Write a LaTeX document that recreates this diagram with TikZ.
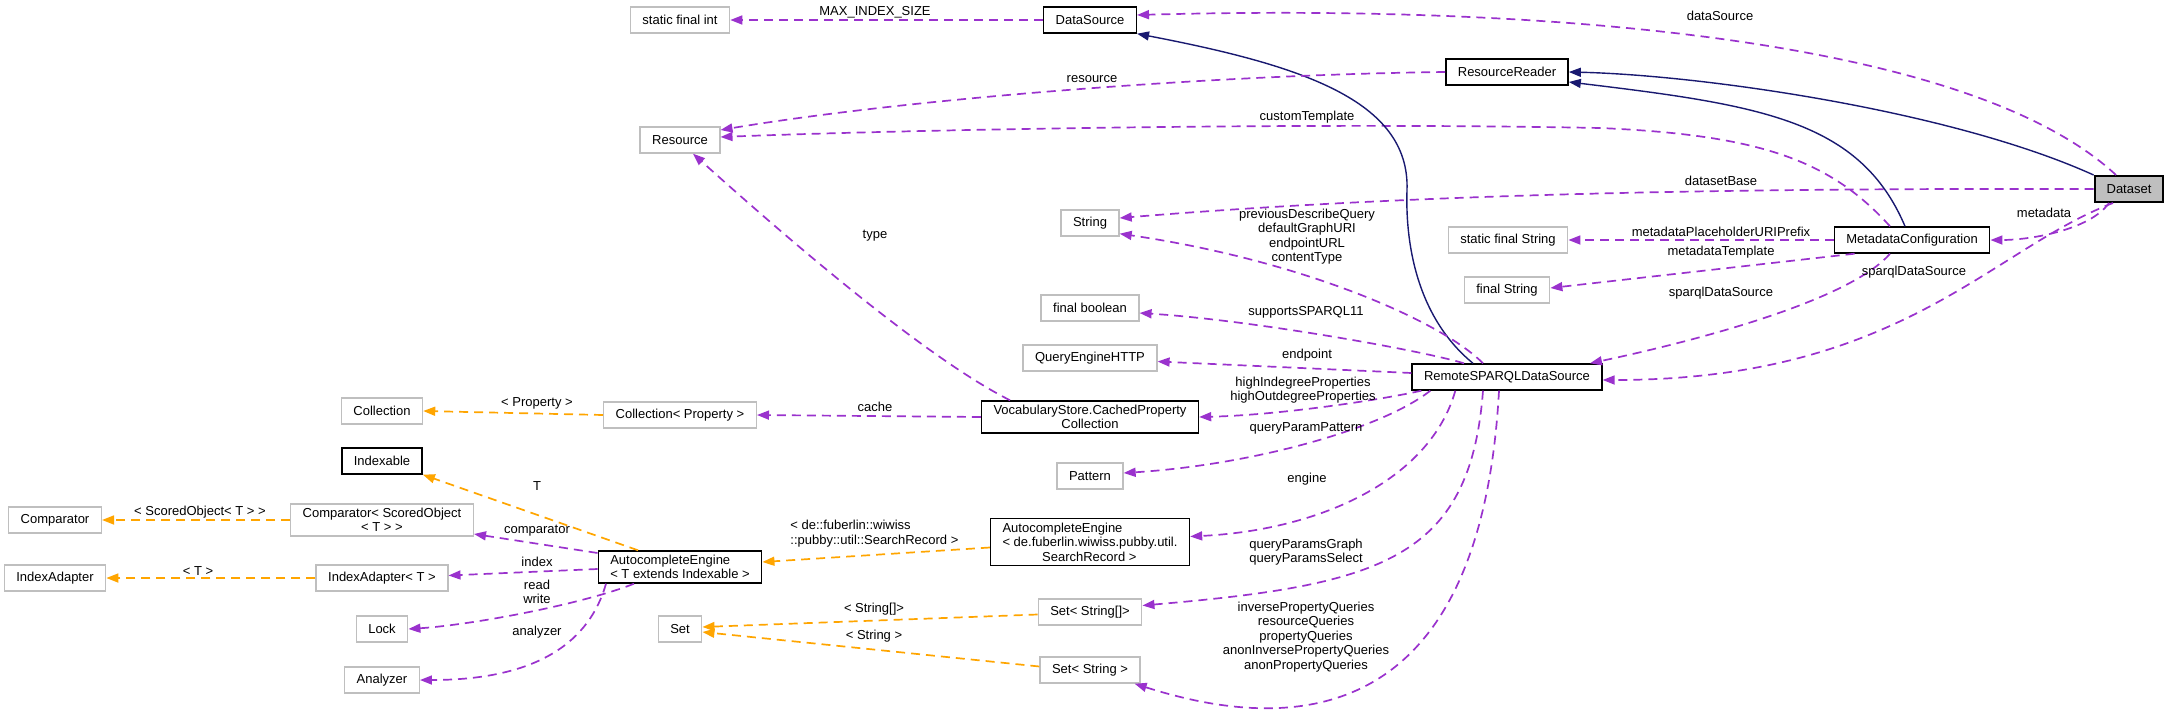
\documentclass[tikz,border=0pt]{standalone}
\usepackage{fontspec}
\setmainfont{Liberation Sans}
\usepackage{tikz}
\usetikzlibrary{arrows.meta}
\definecolor{memc}{HTML}{9A32CD}
\definecolor{tplc}{HTML}{FFA500}
\definecolor{inhc}{HTML}{191970}
\definecolor{grayb}{HTML}{BFBFBF}

\begin{document}
\begin{tikzpicture}[x=0.5pt, y=-0.5pt,
  font=\fontsize{6.5pt}{7.25pt}\selectfont,
  cls/.style={draw=black, line width=0.7pt, inner xsep=6pt, inner ysep=2pt, minimum height=13pt},
  ext/.style={cls, draw=grayb},
  mem/.style={draw=memc, line width=0.85pt, dash pattern=on 4.5pt off 3pt,
    -{Triangle[length=6pt,width=4.5pt]}},
  tpl/.style={mem, draw=tplc},
  inh/.style={draw=inhc, line width=0.7pt, -{Triangle[length=6pt,width=4.5pt]}},
  lbl/.style={inner sep=0pt, align=center}]
  \useasboundingbox (0,0) rectangle (2169,712);
  % classes
  \node[ext] (sfi) at (680,20) {static final int};
  \node[cls] (ds) at (1090,20) {DataSource};
  \node[cls] (rr) at (1507,72) {ResourceReader};
  \node[cls, fill=grayb, line width=1pt] (dset) at (2129,189) {Dataset};
  \node[ext] (res) at (680,140) {Resource};
  \node[ext] (str) at (1090,223) {String};
  \node[ext] (sfs) at (1508,240) {static final String};
  \node[cls] (mc) at (1912,240) {MetadataConfiguration};
  \node[ext] (fs) at (1507,290) {final String};
  \node[cls] (rsds) at (1507,377) {RemoteSPARQLDataSource};
  \node[ext] (fb) at (1090,308) {final boolean};
  \node[ext] (qeh) at (1090,358) {QueryEngineHTTP};
  \node[cls, align=center] (vs) at (1090,417) {VocabularyStore.CachedProperty\\Collection};
  \node[ext] (cp) at (680,415) {Collection< Property >};
  \node[ext] (coll) at (382,411) {Collection};
  \node[cls] (idx) at (382,461) {Indexable};
  \node[ext] (pat) at (1090,476) {Pattern};
  \node[ext] (cmp) at (55,520) {Comparator};
  \node[ext, align=center] (cso) at (382,520) {Comparator< ScoredObject\\< T > >};
  \node[cls, align=left] (aed) at (1090,542)
    {AutocompleteEngine\\< de.fuberlin.wiwiss.pubby.util.\\\hspace*{3.05em}SearchRecord >};
  \node[cls, align=left] (aet) at (680,567) {AutocompleteEngine\\< T extends Indexable >};
  \node[ext] (iad) at (55,578) {IndexAdapter};
  \node[ext] (iat) at (382,578) {IndexAdapter< T >};
  \node[ext] (ss2) at (1090,612) {Set< String[]>};
  \node[ext] (set) at (680,629) {Set};
  \node[ext] (lock) at (382,629) {Lock};
  \node[ext] (sss) at (1090,670) {Set< String >};
  \node[ext] (ana) at (382,680) {Analyzer};
  % Dataset
  \draw[mem] ([xshift=-6.5pt]dset.north) .. controls (1960,30) and (1500,5) .. ([yshift=2.5pt]ds.east);
  \draw[inh] (dset.north west) .. controls (1950,110) and (1700,75) .. (rr.east);
  \draw[mem] (dset.west) .. controls (1700,188) and (1400,195) .. ([yshift=2.5pt]str.east);
  \draw[mem] ([xshift=-10pt]dset.south) .. controls (2090,230) and (2030,240) .. (mc.east);
  \draw[mem] ([xshift=-8pt]dset.south) .. controls (1990,250) and (1900,380) .. ([yshift=-1.5pt]rsds.east);
  % MetadataConfiguration
  \draw[inh] ([xshift=-3.5pt]mc.north) .. controls (1860,120) and (1760,105) .. ([yshift=-5pt]rr.east);
  \draw[mem] ([xshift=-11pt]mc.north) .. controls (1830,160) and (1760,135) .. (1600,128)
    .. controls (1300,122) and (900,130) .. ([yshift=1.5pt]res.east);
  \draw[mem] (mc.west) -- (sfs.east);
  \draw[mem] ([xshift=10.5pt]mc.south west) -- ([yshift=1pt]fs.east);
  \draw[mem] ([xshift=-11pt]mc.south) .. controls (1850,300) and (1700,340) .. ([xshift=41.5pt]rsds.north);
  % RemoteSPARQLDataSource
  \draw[inh] ([xshift=-17pt]rsds.north) .. controls (1420,320) and (1405,250) .. (1407,190)
    .. controls (1410,100) and (1300,65) .. (ds.south east);
  \draw[mem] ([xshift=-12pt]rsds.north) .. controls (1440,320) and (1300,260) .. ([yshift=1.5pt]str.south east);
  \draw[mem] ([xshift=-21.5pt]rsds.north) .. controls (1420,350) and (1250,320) .. ([yshift=-2.5pt]fb.east);
  \draw[mem] ([yshift=2pt]rsds.west) -- ([yshift=-1.75pt]qeh.east);
  \draw[mem] ([xshift=5pt]rsds.south west) .. controls (1380,400) and (1280,415) .. (vs.east);
  \draw[mem] ([xshift=9.5pt]rsds.south west) .. controls (1380,430) and (1250,465) .. ([yshift=1.5pt]pat.east);
  \draw[mem] ([xshift=22pt]rsds.south west) .. controls (1430,480) and (1320,530) .. ([yshift=2.75pt]aed.east);
  \draw[mem] ([xshift=-12pt]rsds.south) .. controls (1470,560) and (1380,585) .. ([yshift=3.25pt]ss2.east);
  \draw[mem] ([xshift=-4pt]rsds.south) .. controls (1480,740) and (1280,730) .. ([xshift=-3pt]sss.south east);
  % DataSource, ResourceReader
  \draw[mem] (ds.west) -- (sfi.east);
  \draw[mem] (rr.west) .. controls (1200,75) and (900,100) .. ([yshift=5pt]res.east);
  % VocabularyStore
  \draw[mem] ([xshift=-40pt]vs.north) .. controls (930,360) and (800,250) .. ([xshift=6.5pt]res.south);
  \draw[mem] (vs.west) -- (cp.east);
  \draw[tpl] (cp.west) -- (coll.east);
  % AutocompleteEngine
  \draw[tpl] ([xshift=-21pt]aet.north) -- (idx.south east);
  \draw[tpl] (cso.west) -- (cmp.east);
  \draw[mem] ([yshift=7pt]aet.west) -- ([yshift=-7pt]cso.east);
  \draw[mem] ([yshift=-1pt]aet.west) -- ([yshift=1.25pt]iat.east);
  \draw[tpl] (iat.west) -- (iad.east);
  \draw[mem] ([xshift=-23pt]aet.south) .. controls (580,605) and (470,625) .. (lock.east);
  \draw[mem] ([xshift=-37pt]aet.south) .. controls (590,640) and (540,680) .. (ana.east);
  \draw[tpl] ([yshift=-2.75pt]aed.west) -- ([yshift=2.5pt]aet.east);
  \draw[tpl] ([yshift=-1.25pt]ss2.west) -- ([yshift=1pt]set.east);
  \draw[tpl] ([yshift=1.75pt]sss.west) -- ([yshift=-1.5pt]set.east);
  % labels
  \node[lbl] (lMax) at (875,12) {MAX\_INDEX\_SIZE};
  \node[lbl] (lDsrc) at (1720,16) {dataSource};
  \node[lbl] (lRes) at (1092,79) {resource};
  \node[lbl] (lTmpl) at (1307,117) {customTemplate};
  \node[lbl] (lBase) at (1721,181) {datasetBase};
  \node[lbl] (lMeta) at (2044,213) {metadata};
  \node[lbl] (lPref) at (1721,232) {metadataPlaceholderURIPrefix};
  \node[lbl] (lMtpl) at (1721,252) {metadataTemplate};
  \node[lbl] (lSds1) at (1914,272) {sparqlDataSource};
  \node[lbl] (lSds2) at (1721,293) {sparqlDataSource};
  \node[lbl] (lStr) at (1307,236.5) {previousDescribeQuery\\defaultGraphURI\\endpointURL\\contentType};
  \node[lbl] (lType) at (875,236) {type};
  \node[lbl] (lSup) at (1306,312) {supportsSPARQL11};
  \node[lbl] (lEnd) at (1307,355) {endpoint};
  \node[lbl] (lHigh) at (1303,390) {highIndegreeProperties\\highOutdegreeProperties};
  \node[lbl] (lCache) at (875,407) {cache};
  \node[lbl] (lPat) at (1306,428) {queryParamPattern};
  \node[lbl] (lProp) at (537,403) {< Property >};
  \node[lbl] (lT) at (537,486) {T};
  \node[lbl] (lEng) at (1307,479) {engine};
  \node[lbl] (lSco) at (200,512) {< ScoredObject< T > >};
  \node[lbl] (lCmp) at (537,531) {comparator};
  \node[lbl, align=left, anchor=west] (lSrec) at (790,533.5)
    {< de::fuberlin::wiwiss\\::pubby::util::SearchRecord >};
  \node[lbl] (lQp) at (1306,552) {queryParamsGraph\\queryParamsSelect};
  \node[lbl] (lIdx) at (537,562) {index};
  \node[lbl] (lTT) at (198,571) {< T >};
  \node[lbl] (lRw) at (537,592) {read\\write};
  \node[lbl] (lSa) at (874,609) {< String[]>};
  \node[lbl] (lQs) at (1306,637) {inversePropertyQueries\\resourceQueries\\propertyQueries\\anonInversePropertyQueries\\anonPropertyQueries};
  \node[lbl] (lAna) at (537,632) {analyzer};
  \node[lbl] (lSs) at (874,636) {< String >};
\end{tikzpicture}
\end{document}
